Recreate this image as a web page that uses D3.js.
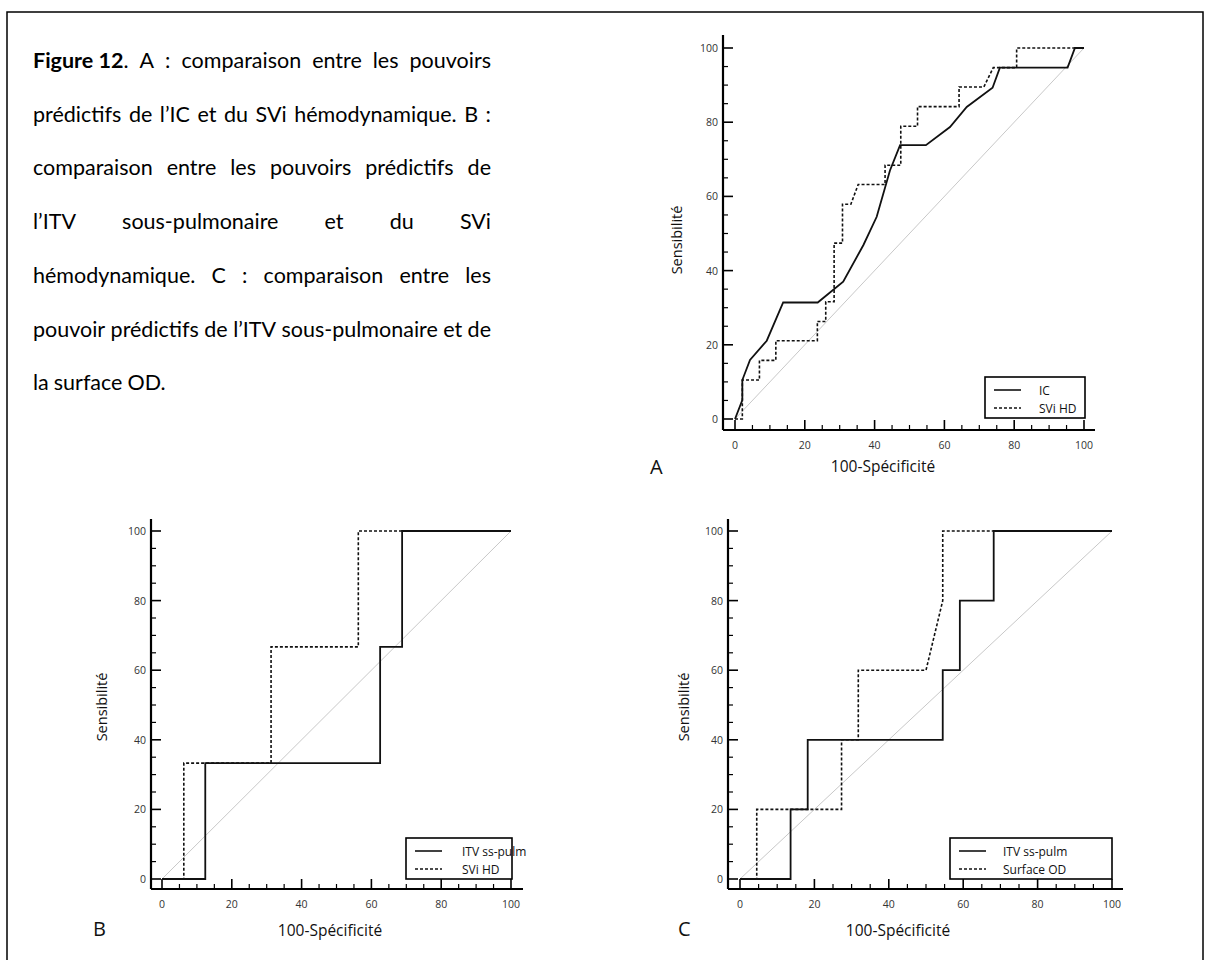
<!DOCTYPE html>
<html>
<head>
<meta charset="utf-8">
<script src="https://cdn.jsdelivr.net/npm/d3@7"></script>
<style>
  body { margin: 0; background: #fff; }
  svg text { font-family: "Open Sans", Lato, sans-serif; }
  svg text.cap { font-family: Lato, "Open Sans", sans-serif; }
</style>
</head>
<body>
<svg id="fig" width="1206" height="960"></svg>
<script>
// Caption lines (justified except the last)
var captionLines = [
  "Figure 12. A : comparaison entre les pouvoirs",
  "prédictifs de l’IC et du SVi hémodynamique. B :",
  "comparaison entre les pouvoirs prédictifs de",
  "l’ITV sous-pulmonaire et du SVi",
  "hémodynamique. C : comparaison entre les",
  "pouvoir prédictifs de l’ITV sous-pulmonaire et de",
  "la surface OD."
];

// Panel A : IC (solid) vs SVi HD (dashed)
var aIC = [[0,0],[2.1,5.1],[2.1,10.5],[4.3,15.9],[9.1,21.1],[13.8,31.4],[23.7,31.4],[31,37],
  [36.8,46.9],[40.6,54.5],[44.4,67],[47.3,73.8],[54.7,73.8],[61.6,78.7],[66.4,84.1],
  [73.8,89.3],[75.9,94.7],[95.3,94.7],[97.4,100],[100,100]];
var aSVi = [[0,0],[2.1,0],[2.1,10.5],[7,10.5],[7,15.8],[11.7,15.8],[11.7,21.1],[23.6,21.1],
  [23.6,26.3],[26,26.3],[26,31.6],[28.4,31.6],[28.4,47.4],[30.8,47.4],[30.8,57.9],[33.2,57.9],
  [35.3,63.2],[43,63.2],[43,68.4],[47.5,68.4],[47.5,78.9],[52.3,78.9],[52.3,84.2],[64.2,84.2],
  [64.2,89.5],[71.3,89.5],[74,94.7],[80.7,94.7],[80.7,100],[100,100]];

// Panel B : ITV ss-pulm (solid) vs SVi HD (dashed)
var bITV = [[0,0],[12.4,0],[12.4,33.3],[62.5,33.3],[62.5,66.7],[68.8,66.7],[68.8,100],[100,100]];
var bSVi = [[0,0],[6.25,0],[6.25,33.3],[31.25,33.3],[31.25,66.7],[56.25,66.7],[56.25,100],[68.8,100]];

// Panel C : ITV ss-pulm (solid) vs Surface OD (dashed)
var cITV = [[0,0],[13.6,0],[13.6,20],[18.2,20],[18.2,40],[54.5,40],[54.5,60],[59.1,60],
  [59.1,80],[68.2,80],[68.2,100],[100,100]];
var cOD = [[0,0],[4.5,0],[4.5,20],[27.3,20],[27.3,40],[31.8,40],[31.8,60],[50,60],
  [54.5,80],[54.5,100],[68.2,100]];

var majorTicks = [0, 20, 40, 60, 80, 100];
var minorTicks = d3.range(0, 101, 5).filter(d => d % 20 !== 0);

var svg = d3.select("#fig");

// outer frame
svg.append("rect").attr("x", 7).attr("y", 12).attr("width", 1196).attr("height", 960)
  .attr("fill", "none").attr("stroke", "#000").attr("stroke-width", 1.5);

// caption, justified by hand ("Figure 12." kept as one bold unit)
var capLeft = 33, capRight = 491, capTop = 68, capStep = 53.7;
captionLines.forEach(function(line, i) {
  var words = line.split(" ");
  if (i === 0) words = ["Figure 12."].concat(words.slice(2));
  var y = capTop + i * capStep;
  var g = svg.append("g");
  var nodes = words.map(function(w) {
    var t = g.append("text").attr("class", "cap").attr("y", y).attr("font-size", 21.5).attr("fill", "#000");
    if (w === "Figure 12.") {
      t.append("tspan").attr("font-weight", "bold").text("Figure 12");
      t.append("tspan").text(".");
    } else {
      t.text(w);
    }
    return t;
  });
  var widths = nodes.map(n => n.node().getComputedTextLength());
  var total = d3.sum(widths);
  var last = i === captionLines.length - 1;
  var gap = last ? 5 : Math.max(3, (capRight - capLeft - total) / (words.length - 1));
  var x = capLeft;
  nodes.forEach(function(n, k) { n.attr("x", x); x += widths[k] + gap; });
});

function drawPanel(p) {
  var x = d3.scaleLinear().domain([0, 100]).range([p.x0, p.x1]);
  var y = d3.scaleLinear().domain([0, 100]).range([p.y0, p.y1]);
  var g = svg.append("g");
  var line = d3.line().x(d => x(d[0])).y(d => y(d[1]));

  // axes lines
  g.append("line").attr("x1", p.ax).attr("x2", p.ax).attr("y1", p.ayTop).attr("y2", p.ay)
    .attr("stroke", "#000").attr("stroke-width", 2.2);
  g.append("line").attr("x1", p.ax).attr("x2", p.axRight).attr("y1", p.ay).attr("y2", p.ay)
    .attr("stroke", "#000").attr("stroke-width", 2.2);

  // ticks
  majorTicks.forEach(function(t) {
    g.append("line").attr("x1", x(t)).attr("x2", x(t)).attr("y1", p.ay).attr("y2", p.ay - 10)
      .attr("stroke", "#000").attr("stroke-width", 1.6);
    g.append("line").attr("x1", p.ax).attr("x2", p.ax + 10).attr("y1", y(t)).attr("y2", y(t))
      .attr("stroke", "#000").attr("stroke-width", 1.6);
    g.append("text").attr("x", x(t)).attr("y", p.ay + 19).attr("text-anchor", "middle")
      .attr("font-size", 10.5).attr("fill", "#333").text(t);
    g.append("text").attr("x", p.ax - 5).attr("y", y(t) + 4).attr("text-anchor", "end")
      .attr("font-size", 10.5).attr("fill", "#333").text(t);
  });
  minorTicks.forEach(function(t) {
    g.append("line").attr("x1", x(t)).attr("x2", x(t)).attr("y1", p.ay).attr("y2", p.ay - 5)
      .attr("stroke", "#000").attr("stroke-width", 1.2);
    g.append("line").attr("x1", p.ax).attr("x2", p.ax + 5).attr("y1", y(t)).attr("y2", y(t))
      .attr("stroke", "#000").attr("stroke-width", 1.2);
  });

  // diagonal reference
  g.append("path").attr("d", line([[0, 0], [100, 100]]))
    .attr("fill", "none").attr("stroke", "#c8c8c8").attr("stroke-width", 1);

  g.append("path").attr("d", line(p.dashed)).attr("fill", "none")
    .attr("stroke", "#111").attr("stroke-width", 1.6).attr("stroke-dasharray", "3,2");
  g.append("path").attr("d", line(p.solid)).attr("fill", "none")
    .attr("stroke", "#111").attr("stroke-width", 1.8);

  // legend
  var L = p.legend;
  g.append("rect").attr("x", L.x).attr("y", L.y).attr("width", L.w).attr("height", 41)
    .attr("fill", "#fff").attr("stroke", "#000").attr("stroke-width", 1.6);
  g.append("line").attr("x1", L.x + 9).attr("x2", L.x + 36).attr("y1", L.y + 13).attr("y2", L.y + 13)
    .attr("stroke", "#111").attr("stroke-width", 1.6);
  g.append("line").attr("x1", L.x + 9).attr("x2", L.x + 36).attr("y1", L.y + 31).attr("y2", L.y + 31)
    .attr("stroke", "#111").attr("stroke-width", 1.4).attr("stroke-dasharray", "3,2");
  g.append("text").attr("x", L.tx).attr("y", L.y + 18).attr("font-size", 12).attr("fill", "#111").text(L.names[0]);
  g.append("text").attr("x", L.tx).attr("y", L.y + 36).attr("font-size", 12).attr("fill", "#111").text(L.names[1]);

  // titles
  g.append("text").attr("transform", "translate(" + p.yt[0] + "," + p.yt[1] + ") rotate(-90)")
    .attr("text-anchor", "middle").attr("font-size", 14.5).attr("fill", "#111").text("Sensibilité");
  g.append("text").attr("x", p.xt[0]).attr("y", p.xt[1]).attr("text-anchor", "middle")
    .attr("font-size", 15.5).attr("fill", "#111").text("100-Spécificité");
  g.append("text").attr("x", p.lab[0]).attr("y", p.lab[1]).attr("font-size", 20)
    .attr("fill", "#111").text(p.name);
}

drawPanel({ name: "A", x0: 735, x1: 1084, y0: 419, y1: 48, ax: 723, ay: 430, ayTop: 35, axRight: 1095,
  solid: aIC, dashed: aSVi,
  legend: { x: 985, y: 377, w: 100, tx: 1039, names: ["IC", "SVi HD"] },
  yt: [682, 240], xt: [883, 472], lab: [650, 474] });

drawPanel({ name: "B", x0: 162, x1: 511, y0: 879, y1: 531, ax: 151, ay: 889, ayTop: 519, axRight: 523,
  solid: bITV, dashed: bSVi,
  legend: { x: 406, y: 838, w: 106, tx: 462, names: ["ITV ss-pulm", "SVi HD"] },
  yt: [107, 707], xt: [330, 936], lab: [93, 936] });

drawPanel({ name: "C", x0: 740, x1: 1112, y0: 879, y1: 531, ax: 728, ay: 889, ayTop: 519, axRight: 1123,
  solid: cITV, dashed: cOD,
  legend: { x: 950, y: 838, w: 162, tx: 1003, names: ["ITV ss-pulm", "Surface OD"] },
  yt: [689, 707], xt: [898, 936], lab: [678, 936] });
</script>
</body>
</html>
